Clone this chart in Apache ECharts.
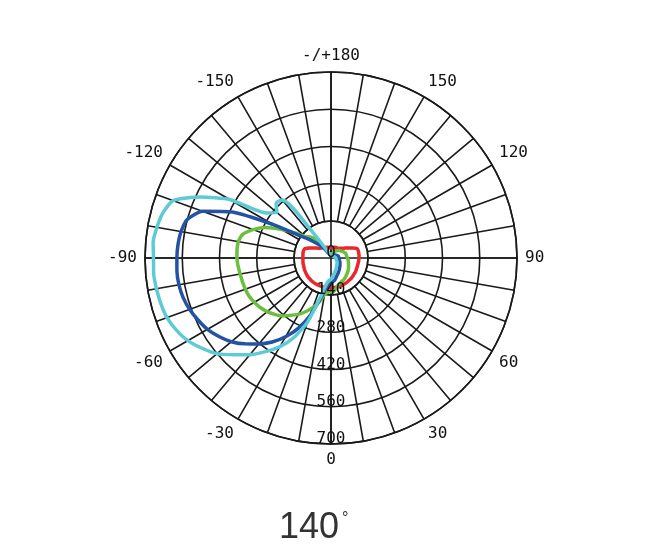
<!DOCTYPE html>
<html><head><meta charset="utf-8">
<script src="https://cdn.jsdelivr.net/npm/echarts@6/dist/echarts.min.js"></script>
<style>html,body{margin:0;padding:0;background:#fff}#c{width:646px;height:560px}</style>
</head><body><div id="c"></div>
<script>
// Angles in degrees (0 = down, +90 = right, -90 = left, ±180 = up)
const angles = [-180,-175,-170,-165,-160,-155,-150,-145,-140,-135,-130,-125,-120,-115,-110,-105,-100,-95,-90,-85,-80,-75,-70,-65,-60,-55,-50,-45,-40,-35,-30,-25,-20,-15,-10,-5,0,5,10,15,20,25,30,35,40,45,50,55,60,65,70,75,80,85,90,95,100,105,110,115,120,125,130,135,140,145,150,155,160,165,170,175,180];

const redValues = [35,37,40,42,43,44,45,47,50,53,57,65,75,90,104,107,107,106,106,106,107,107,108,109,110,111,112,112,113,113,113,113,113,113,113,113,113,112,112,111,111,110,110,109,108,108,107,106,106,105,104,104,104,105,105,106,106,106,104,90,75,65,57,52,48,38,44,44,43,42,40,37,35];

const greenValues = [12,12,12,14,15,20,30,55,95,112,125,165,215,272,312,344,354,355,354,351,347,345,343,340,333,325,314,300,285,263,245,222,198,172,138,130,127,125,115,105,100,97,95,92,88,85,82,79,76,73,70,68,66,64,62,60,59,58,57,53,50,46,43,40,36,33,30,28,27,24,20,15,12];

const blueValues = [8,8,10,12,15,20,25,40,60,80,110,150,253,410,515,560,573,578,580,582,581,576,566,552,537,515,490,457,422,386,342,292,230,160,120,100,92,88,84,75,68,63,58,54,50,47,44,41,39,37,35,33,32,31,30,29,29,28,26,24,22,20,18,16,15,14,12,11,10,10,9,8,8];

const cyanValues = [10,10,12,14,18,25,40,110,285,292,266,295,440,543,632,655,665,672,668,670,667,663,657,642,622,592,560,515,475,430,385,330,255,150,100,85,80,70,62,55,50,45,40,37,34,32,30,28,26,24,22,21,20,19,18,17,16,15,14,13,12,12,11,11,11,10,10,10,10,10,10,10,10];

const angleTicks = [0,30,60,90,120,150,180,210,240,270,300,330];
const angleTickLabels = ['0','30','60','90','120','150','-/+180','-150','-120','-90','-60','-30'];
const radiusTicks = [0,140,280,420,560,700];

const titleNumber = '140';
const titleUnit = '°';

const lineColor = '#1a1a1a';
const labelFont = 'DejaVu Sans Mono';

function toPolar(vals){
  return angles.map((a,i)=>[vals[i], a<0 ? a+360 : a]);
}

const chart = echarts.init(document.getElementById('c'), null, {renderer:'canvas'});
const option = {
  animation:false,
  backgroundColor:'#fff',
  title:{
    text:'{n|'+titleNumber+'}{d|'+titleUnit+'}',
    left:274, top:505,
    textStyle:{
      fontSize:36, fontWeight:'normal',
      rich:{
        n:{fontSize:36, fontWeight:'normal', fontFamily:'Liberation Sans', color:'#333'},
        d:{fontSize:16, fontWeight:'normal', fontFamily:'Liberation Sans', color:'#333', padding:[0,0,18,3]}
      }
    }
  },
  polar:[
    {center:[331,258], radius:[37,186]},
    {center:[331,258], radius:[0,186]}
  ],
  angleAxis:[
    {polarIndex:0, type:'value', min:0, max:360, interval:10, startAngle:270, clockwise:false,
      axisLine:{show:true, lineStyle:{color:lineColor, width:1.6}},
      axisTick:{show:false},
      axisLabel:{show:true, margin:8, color:'#111', fontFamily:labelFont, fontSize:16,
        formatter:function(v){const i=angleTicks.indexOf(Math.round(v)); return i>=0?angleTickLabels[i]:'';}},
      splitLine:{show:true, lineStyle:{color:lineColor, width:1.6}}
    },
    {polarIndex:1, type:'value', min:0, max:360, interval:90, startAngle:270, clockwise:false,
      axisLine:{show:false}, axisTick:{show:false}, axisLabel:{show:false},
      splitLine:{show:true, lineStyle:{color:lineColor, width:1.6}}
    }
  ],
  radiusAxis:[
    {polarIndex:0, type:'value', min:140, max:700, interval:140,
      axisLine:{show:false}, axisTick:{show:false}, axisLabel:{show:false},
      splitLine:{show:true, lineStyle:{color:lineColor, width:1.6}}
    },
    {polarIndex:1, type:'value', min:radiusTicks[0], max:radiusTicks[radiusTicks.length-1], interval:radiusTicks[1]-radiusTicks[0],
      axisLine:{show:false}, axisTick:{show:false}, splitLine:{show:false},
      axisLabel:{show:true, margin:0, align:'center', verticalAlign:'bottom', lineHeight:10, color:'#111', fontFamily:labelFont, fontSize:16},
      z:10
    }
  ],
  series:[
    {name:'red', type:'line', coordinateSystem:'polar', polarIndex:1, data:toPolar(redValues), showSymbol:false, symbol:'none', smooth:0.2, lineStyle:{color:'#e8282c', width:3.5}, z:3},
    {name:'green', type:'line', coordinateSystem:'polar', polarIndex:1, data:toPolar(greenValues), showSymbol:false, symbol:'none', smooth:0.2, lineStyle:{color:'#6cbf3e', width:3.5}, z:3},
    {name:'blue', type:'line', coordinateSystem:'polar', polarIndex:1, data:toPolar(blueValues), showSymbol:false, symbol:'none', smooth:0.2, lineStyle:{color:'#2453a6', width:3.5}, z:3},
    {name:'cyan', type:'line', coordinateSystem:'polar', polarIndex:1, data:toPolar(cyanValues), showSymbol:false, symbol:'none', smooth:0.2, lineStyle:{color:'#5ecad6', width:3.5}, z:3}
  ]
};
chart.setOption(option);
</script>
</body></html>
